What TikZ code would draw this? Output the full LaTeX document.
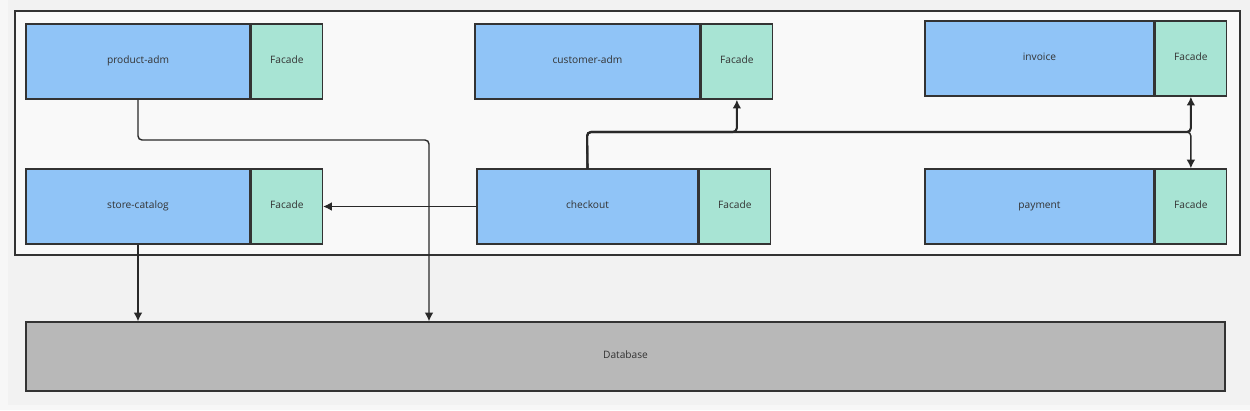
\documentclass[tikz,border=0pt]{standalone}
\usepackage{fontspec}
\setmainfont{Open Sans}
\usetikzlibrary{positioning,arrows.meta}

\definecolor{bgc}{HTML}{F2F2F2}
\definecolor{boxc}{HTML}{F9F9F9}
\definecolor{linec}{HTML}{333333}
\definecolor{modblue}{HTML}{90C4F7}
\definecolor{facgreen}{HTML}{A8E4D4}
\definecolor{dbgrey}{HTML}{B8B8B8}

\tikzset{
  module/.style = {draw=linec, line width=0.8pt, fill=modblue, minimum height=1.5cm,
                   inner sep=0pt, text height=1.5ex, text depth=1.1ex,
                   font=\fontsize{5.8}{7}\selectfont, text=linec},
  facade/.style = {module, fill=facgreen, minimum width=1.42cm},
  link/.style   = {draw=linec!80!black, line width=0.8pt, rounded corners=0.08cm, -{Latex[length=5pt,width=5pt]}}
}

\begin{document}
\begin{tikzpicture}[x=0.02cm, y=-0.02cm]
    \useasboundingbox[fill=bgc] (0,0) rectangle (1250,410);
    \fill[bgc!60!white] (0,0) rectangle (8,410);
    \fill[bgc!60!white] (0,405) rectangle (1250,410);
    \draw[linec, line width=0.8pt, fill=boxc] (15,11) rectangle (1240,255);

    % modules with their facades
    \node[module, minimum width=4.48cm] (pa) at (138,61.5) {product-adm};
    \node[facade, right=0pt of pa] (paf) {Facade};
    \node[module, minimum width=4.5cm] (ca) at (587.5,61.5) {customer-adm};
    \node[facade, right=0pt of ca] (caf) {Facade};
    \node[module, minimum width=4.58cm] (inv) at (1039.5,58.5) {invoice};
    \node[facade, right=0pt of inv] (invf) {Facade};
    \node[module, minimum width=4.48cm] (sc) at (138,206.5) {store-catalog};
    \node[facade, right=0pt of sc] (scf) {Facade};
    \node[module, minimum width=4.42cm] (co) at (587.5,206.5) {checkout};
    \node[facade, right=0pt of co] (cof) {Facade};
    \node[module, minimum width=4.58cm] (pay) at (1039.5,206.5) {payment};
    \node[facade, right=0pt of pay] (payf) {Facade};

    \node[module, fill=dbgrey, minimum width=23.98cm, minimum height=1.38cm] (db) at (625.5,356.5) {Database};

    % connectors
    \coordinate (bend) at (429,140);
    \coordinate (hub) at (587,132);
    \draw[link] (pa.south) |- (bend) -- (db.north -| bend);
    \draw[link] (sc.south) -- (db.north -| sc.south);
    \draw[link] (co.west) -- (scf.east);
    \draw[link, line width=1.2pt] (co.north) -- (hub) -| (caf.south);
    \draw[link, line width=1.2pt] (co.north) -- (hub) -| (invf.south);
    \draw[link] (co.north) -- (hub) -| (payf.north);
\end{tikzpicture}
\end{document}
